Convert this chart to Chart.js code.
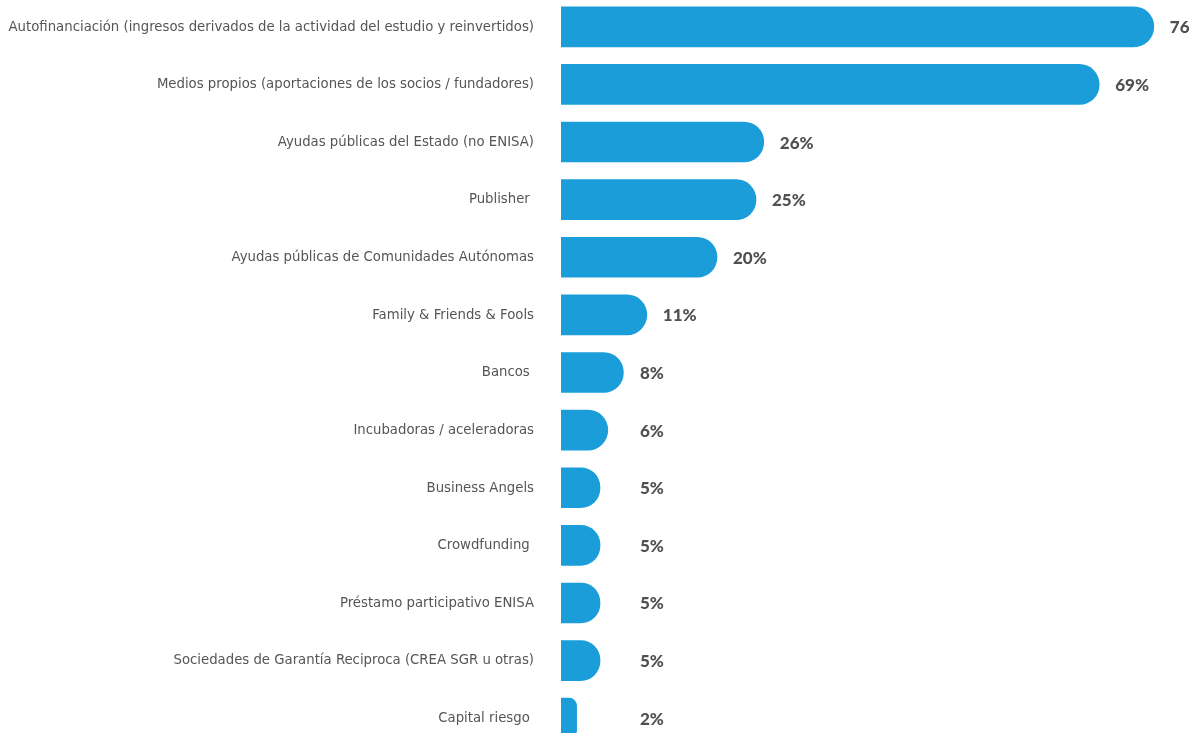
<!DOCTYPE html>
<html>
<head>
<meta charset="utf-8">
<script src="https://cdn.jsdelivr.net/npm/chart.js@4/dist/chart.umd.min.js"></script>
<style>
    html, body { margin: 0; padding: 0; background: #fff; overflow: hidden; }
    #wrap { position: absolute; left: 0; top: -2px; width: 1195px; height: 749px; }
</style>
</head>
<body>
<div id="wrap"><canvas id="fundingChart"></canvas></div>
<script>
const categories = [
    'Autofinanciación (ingresos derivados de la actividad del estudio y reinvertidos)',
    'Medios propios (aportaciones de los socios / fundadores)',
    'Ayudas públicas del Estado (no ENISA)',
    'Publisher ',
    'Ayudas públicas de Comunidades Autónomas',
    'Family & Friends & Fools',
    'Bancos ',
    'Incubadoras / aceleradoras',
    'Business Angels',
    'Crowdfunding ',
    'Préstamo participativo ENISA',
    'Sociedades de Garantía Reciproca (CREA SGR u otras)',
    'Capital riesgo '
];
const percentages = [76, 69, 26, 25, 20, 11, 8, 6, 5, 5, 5, 5, 2];
const valueLabels = ['76', '69%', '26%', '25%', '20%', '11%', '8%', '6%', '5%', '5%', '5%', '5%', '2%'];

const fundingChart = document.getElementById('fundingChart');

// value text next to the end of each bar
const barValues = {
    id: 'barValues',
    afterDatasetsDraw(chart) {
        const ctx = chart.ctx;
        const meta = chart.getDatasetMeta(0);
        ctx.save();
        ctx.font = '900 17px Lato';
        ctx.fillStyle = '#505050';
        ctx.textBaseline = 'middle';
        ctx.textAlign = 'left';
        meta.data.forEach((bar, i) => {
            const x = Math.max(bar.x + 16, 640);
            ctx.fillText(valueLabels[i], x, bar.y + 1);
        });
        ctx.restore();
    }
};

new Chart(fundingChart, {
    type: 'bar',
    data: {
        labels: categories,
        datasets: [{
            data: percentages,
            backgroundColor: '#1a9dd9',
            borderWidth: 0,
            borderRadius: 20,
            barThickness: 40
        }]
    },
    options: {
        indexAxis: 'y',
        responsive: true,
        maintainAspectRatio: false,
        animation: false,
        layout: { padding: { left: 0, right: 10, top: 0, bottom: 0 } },
        plugins: {
            legend: { display: false },
            tooltip: { enabled: false }
        },
        scales: {
            x: {
                min: 0,
                max: 80,
                display: false
            },
            y: {
                grid: { display: false, drawTicks: false },
                border: { display: false },
                ticks: {
                    padding: 27,
                    color: '#555555',
                    font: { family: "'DejaVu Sans Condensed', sans-serif", size: 14.75 }
                },
                afterFit: (scale) => {
                    scale.width = 561;
                    // tick padding should not push the bars in from top/bottom
                    scale.paddingTop = 0;
                    scale.paddingBottom = 0;
                }
            }
        }
    },
    plugins: [barValues]
});
</script>
</body>
</html>
